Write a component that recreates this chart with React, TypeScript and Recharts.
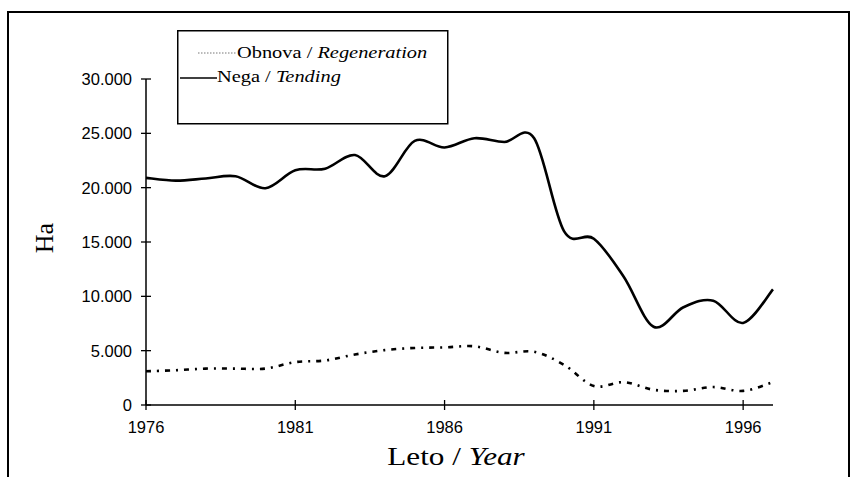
import { LineChart, Line, XAxis, YAxis, Label } from 'recharts';

// Leto / Year
const years = [1976, 1977, 1978, 1979, 1980, 1981, 1982, 1983, 1984, 1985, 1986, 1987, 1988, 1989, 1990, 1991, 1992, 1993, 1994, 1995, 1996, 1997];
// Nega / Tending (ha)
const tending = [20900, 20650, 20850, 21050, 19950, 21600, 21750, 23000, 21050, 24300, 23700, 24550, 24200, 24550, 16000, 15300, 11800, 7200, 9000, 9600, 7550, 10650];
// Obnova / Regeneration (ha)
const regeneration = [3100, 3200, 3350, 3350, 3350, 3950, 4100, 4650, 5050, 5250, 5300, 5400, 4800, 4900, 3700, 1750, 2100, 1400, 1300, 1650, 1300, 2100];

const xTicks = [1976, 1981, 1986, 1991, 1996];
const yTicks = [0, 5000, 10000, 15000, 20000, 25000, 30000];

const data = years.map((year, i) => ({ year, tending: tending[i], regeneration: regeneration[i] }));

const fmt = (v: number) => (v === 0 ? '0' : `${v / 1000}.000`);

// Excel-style smoothed line (Catmull-Rom through every point)
function excelSmooth(context: any) {
  let pts: number[][] = [];
  return {
    areaStart() {},
    areaEnd() {},
    lineStart() {
      pts = [];
    },
    point(x: number, y: number) {
      pts.push([+x, +y]);
    },
    lineEnd() {
      const n = pts.length;
      if (!n) return;
      context.moveTo(pts[0][0], pts[0][1]);
      for (let i = 0; i < n - 1; i++) {
        const p0 = pts[Math.max(i - 1, 0)];
        const p1 = pts[i];
        const p2 = pts[i + 1];
        const p3 = pts[Math.min(i + 2, n - 1)];
        context.bezierCurveTo(
          p1[0] + (p2[0] - p0[0]) / 6,
          p1[1] + (p2[1] - p0[1]) / 6,
          p2[0] - (p3[0] - p1[0]) / 6,
          p2[1] - (p3[1] - p1[1]) / 6,
          p2[0],
          p2[1]
        );
      }
    },
  };
}

const sans = 'Liberation Sans, Arial, sans-serif';
const serif = 'Liberation Serif, Times New Roman, serif';
const STRETCH = 1.2; // the scanned serif text is a bit wide

function YTick({ x, y, payload }: any) {
  return (
    <g>
      <line x1={x - 5} x2={x + 5} y1={y} y2={y} stroke="#000" strokeWidth={1.3} />
      <text x={x - 14} y={y + 6} textAnchor="end" fontFamily={sans} fontSize={16.5} fill="#000">
        {fmt(payload.value)}
      </text>
    </g>
  );
}

function XTick({ x, y, payload }: any) {
  return (
    <g>
      <line x1={x} x2={x} y1={y - 5} y2={y + 5} stroke="#000" strokeWidth={1.3} />
      <text x={x} y={y + 28} textAnchor="middle" fontFamily={sans} fontSize={16.5} fill="#000">
        {payload.value}
      </text>
    </g>
  );
}

export default function App() {
  return (
    <div style={{ position: 'absolute', left: 0, top: 0, width: 850, height: 477, overflow: 'hidden', background: '#fff' }}>
      <div
        style={{
          position: 'absolute',
          left: 7,
          top: 11,
          width: 839,
          height: 500,
          borderTop: '2px solid #000',
          borderLeft: '2px solid #000',
          borderRight: '2px solid #000',
        }}
      />
      <div style={{ position: 'absolute', left: 0, top: 0 }}>
        <LineChart width={850} height={477} data={data} margin={{ top: 79, right: 77, bottom: 12, left: 0 }}>
          <XAxis
            dataKey="year"
            type="number"
            domain={[1976, 1997]}
            ticks={xTicks}
            interval={0}
            height={60}
            tickSize={0}
            tickMargin={0}
            tickLine={false}
            tick={<XTick />}
            axisLine={{ stroke: '#000', strokeWidth: 1.5 }}
          >
            <Label
              content={() => (
                <text
                  transform={`translate(456 465) scale(${STRETCH} 1)`}
                  textAnchor="middle"
                  fontFamily={serif}
                  fontSize={26}
                  fill="#000"
                >
                  Leto / <tspan fontStyle="italic">Year</tspan>
                </text>
              )}
            />
          </XAxis>
          <YAxis
            type="number"
            domain={[0, 30000]}
            ticks={yTicks}
            interval={0}
            width={146}
            tickSize={0}
            tickMargin={0}
            tickLine={false}
            tick={<YTick />}
            axisLine={{ stroke: '#000', strokeWidth: 1.5 }}
          >
            <Label
              content={() => (
                <text transform="translate(53 238) rotate(-90)" textAnchor="middle" fontFamily={serif} fontSize={26} fill="#000">
                  Ha
                </text>
              )}
            />
          </YAxis>
          <Line
            dataKey="regeneration"
            type={excelSmooth as any}
            stroke="#000"
            strokeWidth={2.6}
            strokeDasharray="5 6 2 6"
            dot={false}
            isAnimationActive={false}
          />
          <Line dataKey="tending" type={excelSmooth as any} stroke="#000" strokeWidth={2.6} dot={false} isAnimationActive={false} />
        </LineChart>
      </div>
      <svg style={{ position: 'absolute', left: 177, top: 30 }} width={272} height={95}>
        <rect x={0.75} y={0.75} width={270} height={93} fill="#fff" stroke="#000" strokeWidth={1.5} />
        <line x1={21} x2={59} y1={23} y2={23} stroke="#777" strokeWidth={1} strokeDasharray="1.5 1.5" />
        <text transform={`translate(60 27.5) scale(${STRETCH} 1)`} fontFamily={serif} fontSize={17} fill="#000">
          Obnova / <tspan fontStyle="italic">Regeneration</tspan>
        </text>
        <line x1={3} x2={40} y1={48} y2={48} stroke="#000" strokeWidth={1.6} />
        <text transform={`translate(40 52) scale(${STRETCH} 1)`} fontFamily={serif} fontSize={17} fill="#000">
          Nega / <tspan fontStyle="italic">Tending</tspan>
        </text>
      </svg>
    </div>
  );
}
